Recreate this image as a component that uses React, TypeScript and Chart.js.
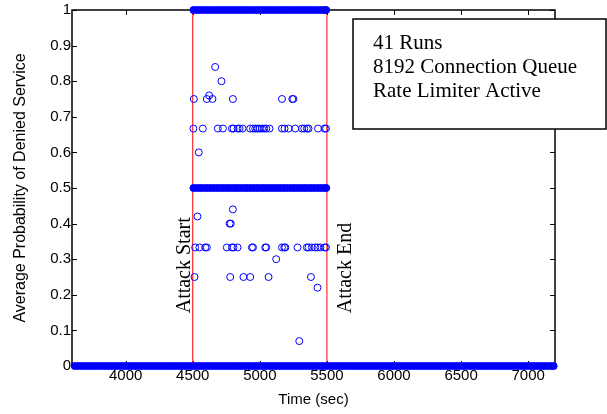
import React, { useEffect, useRef } from "react";
import { Chart, registerables } from "chart.js";

Chart.register(...registerables);

// ---- axes ----
const xMin = 3600;
const xMax = 7200;
const xTicks = [4000, 4500, 5000, 5500, 6000, 6500, 7000];
const yTicks = [0, 0.1, 0.2, 0.3, 0.4, 0.5, 0.6, 0.7, 0.8, 0.9, 1];
const yTickLabels = ["0", "0.1", "0.2", "0.3", "0.4", "0.5", "0.6", "0.7", "0.8", "0.9", "1"];
const xTitle = "Time (sec)";
const yTitle = "Average Probability of Denied Service";

// ---- attack window ----
const attackStart = 4500;
const attackEnd = 5500;
const attackStartLabel = "Attack Start";
const attackEndLabel = "Attack End";
const infoLines = ["41 Runs", "8192 Connection Queue", "Rate Limiter Active"];

// ---- dense bands (samples drawn so densely that they merge) ----
const zeroTimes = [
  3620, 3645, 3670, 3695, 3720, 3745, 3770, 3795, 3820, 3845,
  3870, 3895, 3920, 3945, 3970, 3995, 4020, 4045, 4070, 4095,
  4120, 4145, 4170, 4195, 4220, 4245, 4270, 4295, 4320, 4345,
  4370, 4395, 4420, 4445, 4470, 4495, 4520, 4545, 4570, 4595,
  4620, 4645, 4670, 4695, 4720, 4745, 4770, 4795, 4820, 4845,
  4870, 4895, 4920, 4945, 4970, 4995, 5020, 5045, 5070, 5095,
  5120, 5145, 5170, 5195, 5220, 5245, 5270, 5295, 5320, 5345,
  5370, 5395, 5420, 5445, 5470, 5495, 5520, 5545, 5570, 5595,
  5620, 5645, 5670, 5695, 5720, 5745, 5770, 5795, 5820, 5845,
  5870, 5895, 5920, 5945, 5970, 5995, 6020, 6045, 6070, 6095,
  6120, 6145, 6170, 6195, 6220, 6245, 6270, 6295, 6320, 6345,
  6370, 6395, 6420, 6445, 6470, 6495, 6520, 6545, 6570, 6595,
  6620, 6645, 6670, 6695, 6720, 6745, 6770, 6795, 6820, 6845,
  6870, 6895, 6920, 6945, 6970, 6995, 7020, 7045, 7070, 7095,
  7120, 7145, 7170, 7190,
];
const oneTimes = [
  4505, 4530, 4555, 4580, 4605, 4630, 4655, 4680, 4705, 4730,
  4755, 4780, 4805, 4830, 4855, 4880, 4905, 4930, 4955, 4980,
  5005, 5030, 5055, 5080, 5105, 5130, 5155, 5180, 5205, 5230,
  5255, 5280, 5305, 5330, 5355, 5380, 5405, 5430, 5455, 5480, 5495,
];
const halfTimes = [
  4505, 4530, 4555, 4580, 4605, 4630, 4655, 4680, 4705, 4730,
  4755, 4780, 4805, 4830, 4855, 4880, 4905, 4930, 4955, 4980,
  5005, 5030, 5055, 5080, 5105, 5130, 5155, 5180, 5205, 5230,
  5255, 5280, 5305, 5330, 5355, 5380, 5405, 5430, 5455, 5480, 5495,
];

// ---- individual samples ----
const threeQuarterTimes = [4508, 4605, 4647, 4799, 5165, 5242, 5250];
const twoThirdTimes = [
  4505, 4575, 4687, 4725, 4792, 4804, 4834, 4849, 4871, 4928,
  4949, 4966, 4983, 4998, 5016, 5033, 5048, 5072, 5165, 5184,
  5214, 5264, 5314, 5331, 5351, 5363, 5434, 5483, 5493,
];
const oneThirdTimes = [
  4518, 4550, 4593, 4605, 4754, 4792, 4804, 4834, 4941, 4949,
  5040, 5048, 5165, 5182, 5190, 5281, 5351, 5363, 5388, 5413,
  5430, 5451, 5483, 5493,
];
const quarterTimes = [4513, 4779, 4878, 4928, 5065, 5381];
const otherTimes = [4667, 4714, 4622, 4545, 4535, 4799, 4775, 4783, 5122, 5430, 5294];
const otherValues = [0.84, 0.8, 0.76, 0.6, 0.42, 0.44, 0.4, 0.4, 0.3, 0.22, 0.07];

const BLUE = "#0000ff";
const SANS = "'Liberation Sans', Arial, sans-serif";
const SERIF = "'Liberation Serif', 'Times New Roman', serif";

const at = (times: number[], v: number) => times.map((t) => ({ x: t, y: v }));

const framePlugin = {
  id: "matlabFrame",
  beforeDatasetsDraw(chart: any) {
    const { ctx, chartArea } = chart;
    const { left, right, top, bottom } = chartArea;
    const xs = chart.scales.x;
    const ys = chart.scales.y;
    ctx.save();
    ctx.strokeStyle = "#000";
    ctx.lineWidth = 1.5;
    ctx.strokeRect(left, top, right - left, bottom - top);
    ctx.lineWidth = 1;
    ctx.beginPath();
    const tl = 5;
    xTicks.forEach((t) => {
      const px = Math.round(xs.getPixelForValue(t)) + 0.5;
      ctx.moveTo(px, bottom);
      ctx.lineTo(px, bottom - tl);
      ctx.moveTo(px, top);
      ctx.lineTo(px, top + tl);
    });
    yTicks.forEach((v) => {
      const py = Math.round(ys.getPixelForValue(v)) + 0.5;
      ctx.moveTo(left, py);
      ctx.lineTo(left + tl, py);
      ctx.moveTo(right, py);
      ctx.lineTo(right - tl, py);
    });
    ctx.stroke();
    ctx.restore();
  },
  afterDraw(chart: any) {
    const { ctx } = chart;
    const xs = chart.scales.x;
    const ys = chart.scales.y;
    ctx.save();
    ctx.fillStyle = "#000";
    ctx.font = `20px ${SERIF}`;
    ctx.textAlign = "left";
    ctx.textBaseline = "alphabetic";
    const baseY = ys.getPixelForValue(0.148);
    ctx.save();
    ctx.translate(xs.getPixelForValue(attackStart) - 3, baseY);
    ctx.rotate(-Math.PI / 2);
    ctx.fillText(attackStartLabel, 0, 0);
    ctx.restore();
    ctx.save();
    ctx.translate(xs.getPixelForValue(attackEnd) + 24, baseY);
    ctx.rotate(-Math.PI / 2);
    ctx.fillText(attackEndLabel, 0, 0);
    ctx.restore();

    // info box
    const bx = 353, by = 19, bw = 253, bh = 110;
    ctx.fillStyle = "#fff";
    ctx.fillRect(bx, by, bw, bh);
    ctx.strokeStyle = "#000";
    ctx.lineWidth = 1.5;
    ctx.strokeRect(bx, by, bw, bh);
    ctx.fillStyle = "#000";
    ctx.font = `21px ${SERIF}`;
    infoLines.forEach((line, i) => {
      ctx.fillText(line, 373, 49 + i * 24);
    });
    ctx.restore();
  },
};

export default function App() {
  const ref = useRef<HTMLCanvasElement | null>(null);
  useEffect(() => {
    if (!ref.current) return;
    const bandStyle = {
      pointRadius: 3.5,
      pointHoverRadius: 3.5,
      pointBorderWidth: 1,
      borderColor: BLUE,
      backgroundColor: BLUE,
      pointBackgroundColor: BLUE,
      showLine: false,
      clip: false as any,
    };
    const hollowStyle = {
      pointRadius: 3.5,
      pointHoverRadius: 3.5,
      pointBorderWidth: 1,
      borderColor: BLUE,
      backgroundColor: "rgba(0,0,0,0)",
      pointBackgroundColor: "rgba(0,0,0,0)",
      showLine: false,
      clip: false as any,
    };
    const lineStyle = {
      borderColor: "#ff0000",
      borderWidth: 1,
      pointRadius: 0,
      showLine: true,
      fill: false,
    };
    const chart = new Chart(ref.current, {
      type: "scatter",
      data: {
        datasets: [
          { ...hollowStyle, data: at(threeQuarterTimes, 0.75) },
          { ...hollowStyle, data: at(twoThirdTimes, 0.667) },
          { ...hollowStyle, data: at(oneThirdTimes, 0.333) },
          { ...hollowStyle, data: at(quarterTimes, 0.25) },
          { ...hollowStyle, data: otherTimes.map((t, i) => ({ x: t, y: otherValues[i] })) },
          { ...bandStyle, data: at(oneTimes, 1) },
          { ...bandStyle, data: at(halfTimes, 0.5) },
          { ...bandStyle, data: at(zeroTimes, 0) },
          { ...lineStyle, data: [{ x: attackStart, y: 0 }, { x: attackStart, y: 1 }] },
          { ...lineStyle, data: [{ x: attackEnd, y: 0 }, { x: attackEnd, y: 1 }] },
        ] as any,
      },
      options: {
        responsive: false,
        animation: false,
        devicePixelRatio: 1,
        events: [],
        layout: { padding: { top: 10, right: 52, left: 0, bottom: 0 } },
        plugins: { legend: { display: false }, tooltip: { enabled: false } },
        scales: {
          x: {
            type: "linear",
            min: xMin,
            max: xMax,
            grid: { display: false, drawTicks: false },
            border: { display: false },
            afterBuildTicks: (s: any) => {
              s.ticks = xTicks.map((v) => ({ value: v }));
            },
            afterFit: (s: any) => {
              s.height = 48;
            },
            ticks: {
              color: "#000",
              padding: 1,
              maxRotation: 0,
              autoSkip: false,
              font: { family: SANS, size: 15, lineHeight: 1.2 },
              callback: (v: any) => String(v),
            },
            title: {
              display: true,
              text: xTitle,
              color: "#000",
              font: { family: SANS, size: 15, lineHeight: 1.2 },
              padding: { top: 0, bottom: 5 },
            },
          },
          y: {
            type: "linear",
            min: 0,
            max: 1,
            grid: { display: false, drawTicks: false },
            border: { display: false },
            afterBuildTicks: (s: any) => {
              s.ticks = yTicks.map((v) => ({ value: v }));
            },
            afterFit: (s: any) => {
              s.width = 72;
            },
            ticks: {
              color: "#000",
              padding: 1,
              autoSkip: false,
              font: { family: SANS, size: 15, lineHeight: 1.2 },
              callback: (_v: any, i: number) => yTickLabels[i],
            },
            title: {
              display: true,
              text: yTitle,
              color: "#000",
              font: { family: SANS, size: 16, lineHeight: 1.2 },
              padding: { top: 11, bottom: 0 },
            },
          },
        },
      },
      plugins: [framePlugin],
    });
    return () => chart.destroy();
  }, []);
  return (
    <div style={{ position: "absolute", left: 0, top: 0, width: 607, height: 414, background: "#fff" }}>
      <canvas ref={ref} width={607} height={414} />
    </div>
  );
}
